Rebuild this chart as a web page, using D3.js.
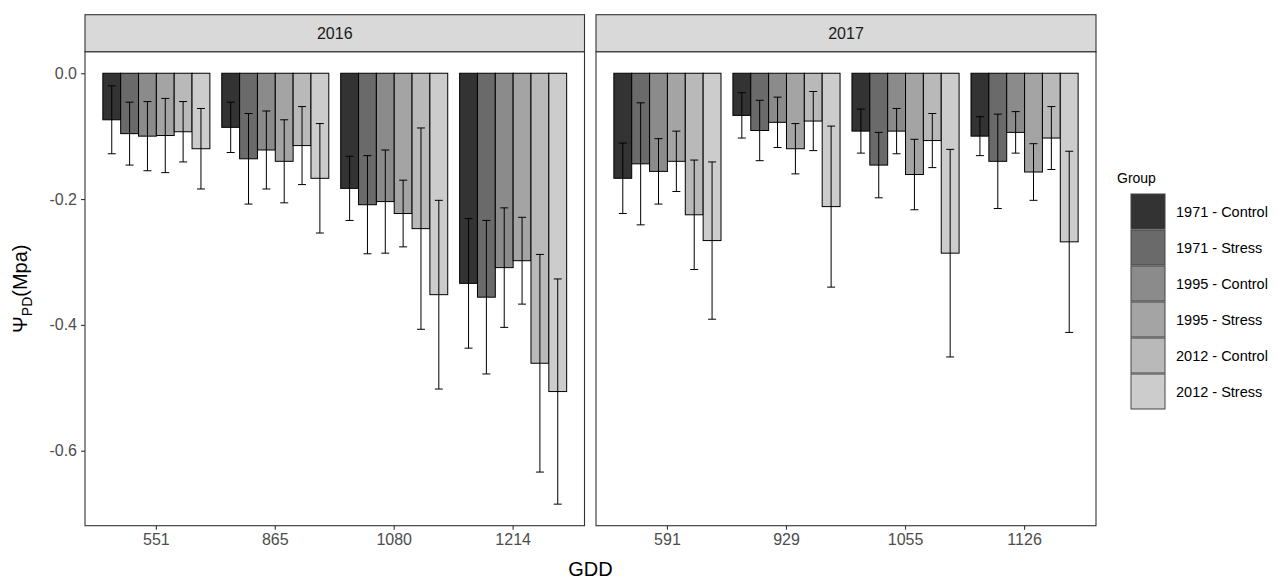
<!DOCTYPE html>
<html>
<head>
<meta charset="utf-8">
<script src="https://cdn.jsdelivr.net/npm/d3@7"></script>
<style>
  body { margin: 0; background: #fff; }
  svg { display: block; font-family: "Liberation Sans", Arial, sans-serif; }
</style>
</head>
<body>
<svg id="chart" width="1279" height="580"></svg>
<script>
// ---------------- data ----------------
const years = ["2016", "2017"];
const groups = ["1971 - Control", "1971 - Stress", "1995 - Control", "1995 - Stress", "2012 - Control", "2012 - Stress"];
const groupColors = ["#333333", "#6A6A6A", "#8B8B8B", "#A4A4A4", "#B9B9B9", "#CCCCCC"];

const gdd2016 = ["551", "865", "1080", "1214"];
const gdd2017 = ["591", "929", "1055", "1126"];

// mean water potential per GDD (one value per group)
const mean2016 = [
  [-0.074, -0.096, -0.100, -0.099, -0.093, -0.120],
  [-0.086, -0.136, -0.122, -0.140, -0.115, -0.167],
  [-0.183, -0.209, -0.204, -0.223, -0.247, -0.352],
  [-0.334, -0.356, -0.309, -0.298, -0.461, -0.506]
];
const se2016 = [
  [0.054, 0.050, 0.055, 0.059, 0.048, 0.064],
  [0.040, 0.072, 0.062, 0.066, 0.062, 0.087],
  [0.051, 0.078, 0.082, 0.053, 0.160, 0.150],
  [0.103, 0.122, 0.095, 0.069, 0.173, 0.179]
];
const mean2017 = [
  [-0.167, -0.144, -0.156, -0.140, -0.225, -0.266],
  [-0.067, -0.091, -0.078, -0.120, -0.076, -0.212],
  [-0.092, -0.146, -0.092, -0.161, -0.107, -0.286],
  [-0.100, -0.140, -0.094, -0.157, -0.103, -0.268]
];
const se2017 = [
  [0.056, 0.097, 0.052, 0.048, 0.087, 0.125],
  [0.036, 0.048, 0.040, 0.040, 0.047, 0.128],
  [0.035, 0.052, 0.036, 0.056, 0.043, 0.165],
  [0.031, 0.075, 0.033, 0.045, 0.050, 0.144]
];
const yTicks = [0, -0.2, -0.4, -0.6];

// ---------------- layout ----------------
const svg = d3.select("#chart");
const panelTop = 51.7, panelBottom = 525.7, stripTop = 14.7;
const panels = [
  { year: years[0], gdd: gdd2016, mean: mean2016, se: se2016, x0: 85, x1: 584.5 },
  { year: years[1], gdd: gdd2017, mean: mean2017, se: se2017, x0: 596, x1: 1096 }
];

// shared y scale (ggplot-style 5% expansion)
let lo = 0, hi = 0;
panels.forEach(p => p.mean.forEach((row, i) => row.forEach((m, j) => {
  lo = Math.min(lo, m - p.se[i][j]); hi = Math.max(hi, m + p.se[i][j], 0);
})));
const pad = (hi - lo) * 0.05;
const y = d3.scaleLinear().domain([lo - pad, hi + pad]).range([panelBottom, panelTop]);

const sub = d3.scaleBand().domain(groups).paddingInner(0).paddingOuter(0);
const fill = d3.scaleOrdinal().domain(groups).range(groupColors);

panels.forEach((p, pi) => {
  const x = d3.scaleBand().domain(p.gdd).range([p.x0, p.x1]).paddingInner(0.1).paddingOuter(0.15);
  sub.range([0, x.bandwidth()]);
  const g = svg.append("g");

  // panel background
  g.append("rect").attr("x", p.x0).attr("y", panelTop).attr("width", p.x1 - p.x0)
    .attr("height", panelBottom - panelTop).attr("fill", "#fff");

  // bars
  p.gdd.forEach((gd, i) => {
    groups.forEach((grp, j) => {
      const m = p.mean[i][j];
      const bx = x(gd) + sub(grp);
      g.append("rect")
        .attr("x", bx).attr("width", sub.bandwidth())
        .attr("y", y(0)).attr("height", y(m) - y(0))
        .attr("fill", fill(grp)).attr("stroke", "#000").attr("stroke-width", 1);
    });
  });
  // error bars
  p.gdd.forEach((gd, i) => {
    groups.forEach((grp, j) => {
      const m = p.mean[i][j], s = p.se[i][j];
      const cx = x(gd) + sub(grp) + sub.bandwidth() / 2;
      const cw = 4;
      const eg = g.append("g").attr("stroke", "#000").attr("stroke-width", 1);
      eg.append("line").attr("x1", cx).attr("x2", cx).attr("y1", y(m + s)).attr("y2", y(m - s));
      eg.append("line").attr("x1", cx - cw).attr("x2", cx + cw).attr("y1", y(m + s)).attr("y2", y(m + s));
      eg.append("line").attr("x1", cx - cw).attr("x2", cx + cw).attr("y1", y(m - s)).attr("y2", y(m - s));
    });
  });

  // panel border
  g.append("rect").attr("x", p.x0).attr("y", panelTop).attr("width", p.x1 - p.x0)
    .attr("height", panelBottom - panelTop).attr("fill", "none")
    .attr("stroke", "#333333").attr("stroke-width", 1.1);

  // strip
  g.append("rect").attr("x", p.x0).attr("y", stripTop).attr("width", p.x1 - p.x0)
    .attr("height", panelTop - stripTop).attr("fill", "#D9D9D9")
    .attr("stroke", "#333333").attr("stroke-width", 1.1);
  g.append("text").attr("x", (p.x0 + p.x1) / 2).attr("y", (stripTop + panelTop) / 2)
    .attr("dy", "0.35em").attr("text-anchor", "middle").attr("font-size", 16)
    .attr("fill", "#1A1A1A").text(p.year);

  // x axis
  const xa = g.append("g").attr("transform", `translate(0,${panelBottom})`)
    .call(d3.axisBottom(x).tickSizeOuter(0).tickSize(4).tickPadding(4));
  xa.select(".domain").remove();
  xa.selectAll(".tick line").attr("stroke", "#333333").attr("stroke-width", 1.1);
  xa.selectAll(".tick text").attr("font-size", 16).attr("fill", "#4D4D4D")
    .attr("font-family", "Liberation Sans, Arial, sans-serif");

  if (pi === 0) {
    const ya = g.append("g").attr("transform", `translate(${p.x0},0)`)
      .call(d3.axisLeft(y).tickValues(yTicks).tickFormat(d3.format(".1f")).tickSize(4).tickPadding(4).tickSizeOuter(0));
    ya.select(".domain").remove();
    ya.selectAll(".tick line").attr("stroke", "#333333").attr("stroke-width", 1.1);
    ya.selectAll(".tick text").attr("font-size", 16).attr("fill", "#4D4D4D")
      .attr("font-family", "Liberation Sans, Arial, sans-serif")
      .text(d => d === 0 ? "0.0" : d3.format(".1f")(d).replace("−", "-"));
  }
});

// axis titles
svg.append("text").attr("x", (85 + 1096) / 2).attr("y", 576).attr("text-anchor", "middle")
  .attr("font-size", 20).attr("fill", "#000").text("GDD");

const yt = svg.append("text").attr("transform", `translate(27,${(panelTop + panelBottom) / 2}) rotate(-90)`)
  .attr("text-anchor", "middle").attr("font-size", 20).attr("fill", "#000");
yt.append("tspan").text("Ψ");
yt.append("tspan").attr("font-size", 14).attr("dy", 5).text("PD");
yt.append("tspan").attr("dy", -5).text("(Mpa)");

// legend
const lg = svg.append("g");
lg.append("text").attr("x", 1117).attr("y", 183).attr("font-size", 14).attr("fill", "#000").text("Group");
const keyH = 36, keyTop = 194;
groups.forEach((grp, j) => {
  lg.append("rect").attr("x", 1131).attr("y", keyTop + j * keyH).attr("width", 34).attr("height", keyH - 1)
    .attr("fill", fill(grp)).attr("stroke", "#444").attr("stroke-width", 1);
  lg.append("text").attr("x", 1176).attr("y", keyTop + j * keyH + keyH / 2).attr("dy", "0.35em")
    .attr("font-size", 14.5).attr("fill", "#000").text(grp);
});
</script>
</body>
</html>
